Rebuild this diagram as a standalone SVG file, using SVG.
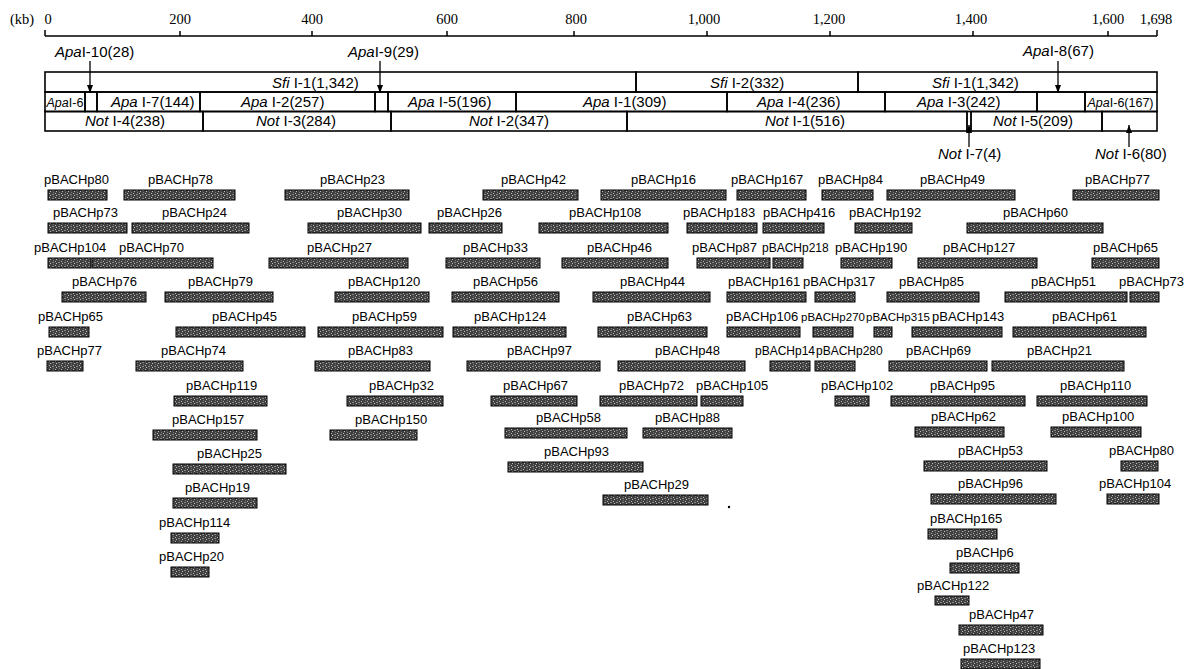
<svg xmlns="http://www.w3.org/2000/svg" width="1187" height="669" viewBox="0 0 1187 669">
<style>
.lbl{font-family:"Liberation Sans",Arial,sans-serif;font-size:13px;fill:#000}
.cnd{font-size:11.5px}
.cnd2{font-size:12px}
.bar{fill:url(#tex);stroke:#000;stroke-width:1}
.seg{fill:none;stroke:#000;stroke-width:1.6}
.mt{font-family:"Liberation Sans",Arial,sans-serif;font-size:15px;fill:#000}
.sm{font-size:12.5px}
.it{font-style:italic}
.ax{font-family:"Liberation Serif","Times New Roman",serif;font-size:14.5px;fill:#000}
.axl{stroke:#000;stroke-width:1.5;fill:none}
.arr{stroke:#000;stroke-width:1.3;fill:none;marker-end:url(#ah)}
</style>
<defs>
<pattern id="tex" width="6" height="4" patternUnits="userSpaceOnUse">
<rect width="6" height="4" fill="#404040"/>
<rect x="1" y="1" width="1" height="1" fill="#b5b5b5"/>
<rect x="4" y="2" width="2" height="1" fill="#8a8a8a"/>
<rect x="2" y="3" width="1" height="1" fill="#c0c0c0"/>
<rect x="5" y="0" width="1" height="1" fill="#777"/>
</pattern>
<marker id="ah" viewBox="0 0 8 6" refX="8" refY="3" markerWidth="8" markerHeight="6" orient="auto" markerUnits="userSpaceOnUse">
<path d="M0,0 L8,3 L0,6 z" fill="#000"/>
</marker>
</defs>
<rect width="1187" height="669" fill="#fff"/>

<g id="axis">
<text class="ax" x="10" y="24">(kb)</text>
<path class="axl" d="M45,36 H1157 M45,30 V36 M180,31 V36 M312,31 V36 M447,31 V36 M574,31 V36 M707,31 V36 M830,31 V36 M973,31 V36 M1108,31 V36 M1157,30 V36"/>
<g class="ax" text-anchor="middle">
<text x="48" y="24">0</text>
<text x="180" y="24">200</text>
<text x="312" y="24">400</text>
<text x="447" y="24">600</text>
<text x="576" y="24">800</text>
<text x="704" y="24">1,000</text>
<text x="829" y="24">1,200</text>
<text x="971" y="24">1,400</text>
<text x="1108" y="24">1,600</text>
<text x="1156" y="24">1,698</text>
</g>
</g>

<g id="sfi-row">
<g id="SfiI-1a"><rect class="seg" x="45" y="72" width="591" height="20"/><text class="mt" x="272" y="87.5"><tspan class="it">Sfi</tspan> I-1(1,342)</text></g>
<g id="SfiI-2"><rect class="seg" x="636" y="72" width="222" height="20"/><text class="mt" x="710" y="87.5"><tspan class="it">Sfi</tspan> I-2(332)</text></g>
<g id="SfiI-1b"><rect class="seg" x="858" y="72" width="299" height="20"/><text class="mt" x="932" y="87.5"><tspan class="it">Sfi</tspan> I-1(1,342)</text></g>
</g>

<g id="apa-row">
<g id="ApaI-6a"><rect class="seg" x="45" y="92" width="40" height="19.5"/><text class="mt sm" x="46.5" y="106.5"><tspan class="it">Apa</tspan>I-6</text></g>
<g id="ApaI-10"><rect class="seg" x="85" y="92" width="12" height="19.5"/></g>
<g id="ApaI-7"><rect class="seg" x="97" y="92" width="103" height="19.5"/><text class="mt" x="111" y="106.5"><tspan class="it">Apa</tspan> I-7(144)</text></g>
<g id="ApaI-2"><rect class="seg" x="200" y="92" width="175" height="19.5"/><text class="mt" x="241" y="106.5"><tspan class="it">Apa</tspan> I-2(257)</text></g>
<g id="ApaI-9"><rect class="seg" x="375" y="92" width="13" height="19.5"/></g>
<g id="ApaI-5"><rect class="seg" x="388" y="92" width="128" height="19.5"/><text class="mt" x="408" y="106.5"><tspan class="it">Apa</tspan> I-5(196)</text></g>
<g id="ApaI-1"><rect class="seg" x="516" y="92" width="211" height="19.5"/><text class="mt" x="583" y="106.5"><tspan class="it">Apa</tspan> I-1(309)</text></g>
<g id="ApaI-4"><rect class="seg" x="727" y="92" width="158" height="19.5"/><text class="mt" x="757" y="106.5"><tspan class="it">Apa</tspan> I-4(236)</text></g>
<g id="ApaI-3"><rect class="seg" x="885" y="92" width="152" height="19.5"/><text class="mt" x="917" y="106.5"><tspan class="it">Apa</tspan> I-3(242)</text></g>
<g id="ApaI-8"><rect class="seg" x="1037" y="92" width="48" height="19.5"/></g>
<g id="ApaI-6b"><rect class="seg" x="1085" y="92" width="72" height="19.5"/><text class="mt sm" x="1087.5" y="106.5"><tspan class="it">Apa</tspan>I-6(167)</text></g>
</g>

<g id="not-row">
<g id="NotI-4"><rect class="seg" x="45" y="111.5" width="158" height="19.5"/><text class="mt" x="85" y="126"><tspan class="it">Not</tspan> I-4(238)</text></g>
<g id="NotI-3"><rect class="seg" x="203" y="111.5" width="188" height="19.5"/><text class="mt" x="256" y="126"><tspan class="it">Not</tspan> I-3(284)</text></g>
<g id="NotI-2"><rect class="seg" x="391" y="111.5" width="236" height="19.5"/><text class="mt" x="469" y="126"><tspan class="it">Not</tspan> I-2(347)</text></g>
<g id="NotI-1"><rect class="seg" x="627" y="111.5" width="340" height="19.5"/><text class="mt" x="765" y="126"><tspan class="it">Not</tspan> I-1(516)</text></g>
<g id="NotI-7"><rect class="seg" x="967" y="111.5" width="4" height="19.5" style="stroke-width:1.2"/></g>
<g id="NotI-5"><rect class="seg" x="971" y="111.5" width="131" height="19.5"/><text class="mt" x="993" y="126"><tspan class="it">Not</tspan> I-5(209)</text></g>
<g id="NotI-6"><rect class="seg" x="1102" y="111.5" width="55" height="19.5"/></g>
</g>

<g id="callouts">
<text class="mt" x="55" y="57"><tspan class="it">Apa</tspan>I-10(28)</text>
<text class="mt" x="348" y="57"><tspan class="it">Apa</tspan>I-9(29)</text>
<text class="mt" x="1023" y="56"><tspan class="it">Apa</tspan>I-8(67)</text>
<text class="mt" x="938" y="159"><tspan class="it">Not</tspan> I-7(4)</text>
<text class="mt" x="1095" y="159"><tspan class="it">Not</tspan> I-6(80)</text>
</g>

<g id="connectors">
<path class="arr" d="M90,61 V93"/>
<path class="arr" d="M380,61 V93"/>
<path class="arr" d="M1058,61 V93"/>
<path class="arr" d="M969,147 V125"/>
<path class="arr" d="M1129,147 V125"/>
</g>

<g id="clones">
<!-- row 1 -->
<g id="c-p80a"><text class="lbl" x="44" y="184">pBACHp80</text><rect class="bar" x="48" y="190" width="59" height="10"/></g>
<g id="c-p78"><text class="lbl" x="148" y="184">pBACHp78</text><rect class="bar" x="124" y="190" width="111" height="10"/></g>
<g id="c-p23"><text class="lbl" x="320" y="184">pBACHp23</text><rect class="bar" x="285" y="190" width="124" height="10"/></g>
<g id="c-p42"><text class="lbl" x="501" y="184">pBACHp42</text><rect class="bar" x="483" y="190" width="95" height="10"/></g>
<g id="c-p16"><text class="lbl" x="631" y="184">pBACHp16</text><rect class="bar" x="601" y="190" width="125" height="10"/></g>
<g id="c-p167"><text class="lbl" x="731" y="184">pBACHp167</text><rect class="bar" x="737" y="190" width="69" height="10"/></g>
<g id="c-p84"><text class="lbl" x="818" y="184">pBACHp84</text><rect class="bar" x="822" y="190" width="51" height="10"/></g>
<g id="c-p49"><text class="lbl" x="920" y="184">pBACHp49</text><rect class="bar" x="887" y="190" width="128" height="10"/></g>
<g id="c-p77b"><text class="lbl" x="1085" y="184">pBACHp77</text><rect class="bar" x="1073" y="190" width="86" height="10"/></g>
<!-- row 2 -->
<g id="c-p73a"><text class="lbl" x="53" y="217">pBACHp73</text><rect class="bar" x="48" y="223" width="79" height="10"/></g>
<g id="c-p24"><text class="lbl" x="162" y="217">pBACHp24</text><rect class="bar" x="132" y="223" width="117" height="10"/></g>
<g id="c-p30"><text class="lbl" x="337" y="217">pBACHp30</text><rect class="bar" x="308" y="223" width="113" height="10"/></g>
<g id="c-p26"><text class="lbl" x="437" y="217">pBACHp26</text><rect class="bar" x="429" y="223" width="73" height="10"/></g>
<g id="c-p108"><text class="lbl" x="569" y="217">pBACHp108</text><rect class="bar" x="539" y="223" width="129" height="10"/></g>
<g id="c-p183"><text class="lbl" x="683" y="217">pBACHp183</text><rect class="bar" x="687" y="223" width="70" height="10"/></g>
<g id="c-p416"><text class="lbl" x="763" y="217">pBACHp416</text><rect class="bar" x="763" y="223" width="61" height="10"/></g>
<g id="c-p192"><text class="lbl" x="849" y="217">pBACHp192</text><rect class="bar" x="855" y="223" width="57" height="10"/></g>
<g id="c-p60"><text class="lbl" x="1003" y="217">pBACHp60</text><rect class="bar" x="967" y="223" width="136" height="10"/></g>
<!-- row 3 -->
<g id="c-p104a"><text class="lbl" x="34" y="252">pBACHp104</text><rect class="bar" x="48" y="258" width="43" height="10"/></g>
<g id="c-p70"><text class="lbl" x="119" y="252">pBACHp70</text><rect class="bar" x="92" y="258" width="121" height="10"/></g>
<g id="c-p27"><text class="lbl" x="307" y="252">pBACHp27</text><rect class="bar" x="269" y="258" width="139" height="10"/></g>
<g id="c-p33"><text class="lbl" x="463" y="252">pBACHp33</text><rect class="bar" x="446" y="258" width="94" height="10"/></g>
<g id="c-p46"><text class="lbl" x="587" y="252">pBACHp46</text><rect class="bar" x="562" y="258" width="106" height="10"/></g>
<g id="c-p87"><text class="lbl" x="692" y="252">pBACHp87</text><rect class="bar" x="697" y="258" width="73" height="10"/></g>
<g id="c-p218"><text class="lbl cnd2" x="762" y="252">pBACHp218</text><rect class="bar" x="773" y="258" width="30" height="10"/></g>
<g id="c-p190"><text class="lbl" x="835" y="252">pBACHp190</text><rect class="bar" x="841" y="258" width="51" height="10"/></g>
<g id="c-p127"><text class="lbl" x="943" y="252">pBACHp127</text><rect class="bar" x="918" y="258" width="119" height="10"/></g>
<g id="c-p65b"><text class="lbl" x="1093" y="252">pBACHp65</text><rect class="bar" x="1092" y="258" width="67" height="10"/></g>
<!-- row 4 -->
<g id="c-p76"><text class="lbl" x="72" y="286">pBACHp76</text><rect class="bar" x="62" y="292" width="84" height="10"/></g>
<g id="c-p79"><text class="lbl" x="188" y="286">pBACHp79</text><rect class="bar" x="165" y="292" width="108" height="10"/></g>
<g id="c-p120"><text class="lbl" x="348" y="286">pBACHp120</text><rect class="bar" x="335" y="292" width="94" height="10"/></g>
<g id="c-p56"><text class="lbl" x="473" y="286">pBACHp56</text><rect class="bar" x="452" y="292" width="107" height="10"/></g>
<g id="c-p44"><text class="lbl" x="620" y="286">pBACHp44</text><rect class="bar" x="593" y="292" width="117" height="10"/></g>
<g id="c-p161"><text class="lbl" x="728" y="286">pBACHp161</text><rect class="bar" x="727" y="292" width="79" height="10"/></g>
<g id="c-p317"><text class="lbl" x="803" y="286">pBACHp317</text><rect class="bar" x="815" y="292" width="40" height="10"/></g>
<g id="c-p85"><text class="lbl" x="899" y="286">pBACHp85</text><rect class="bar" x="887" y="292" width="92" height="10"/></g>
<g id="c-p51"><text class="lbl" x="1031" y="286">pBACHp51</text><rect class="bar" x="1005" y="292" width="122" height="10"/></g>
<g id="c-p73b"><text class="lbl" x="1119" y="286">pBACHp73</text><rect class="bar" x="1130" y="292" width="29" height="10"/></g>
<!-- row 5 -->
<g id="c-p65a"><text class="lbl" x="38" y="321">pBACHp65</text><rect class="bar" x="49" y="327" width="40" height="10"/></g>
<g id="c-p45"><text class="lbl" x="212" y="321">pBACHp45</text><rect class="bar" x="176" y="327" width="129" height="10"/></g>
<g id="c-p59"><text class="lbl" x="352" y="321">pBACHp59</text><rect class="bar" x="318" y="327" width="125" height="10"/></g>
<g id="c-p124"><text class="lbl" x="474" y="321">pBACHp124</text><rect class="bar" x="453" y="327" width="113" height="10"/></g>
<g id="c-p63"><text class="lbl" x="627" y="321">pBACHp63</text><rect class="bar" x="598" y="327" width="109" height="10"/></g>
<g id="c-p106"><text class="lbl" x="726" y="321">pBACHp106</text><rect class="bar" x="727" y="327" width="73" height="10"/></g>
<g id="c-p270"><text class="lbl cnd" x="801" y="321">pBACHp270</text><rect class="bar" x="813" y="327" width="40" height="10"/></g>
<g id="c-p315"><text class="lbl cnd" x="866" y="321">pBACHp315</text><rect class="bar" x="874" y="327" width="18" height="10"/></g>
<g id="c-p143"><text class="lbl" x="932" y="321">pBACHp143</text><rect class="bar" x="912" y="327" width="90" height="10"/></g>
<g id="c-p61"><text class="lbl" x="1052" y="321">pBACHp61</text><rect class="bar" x="1013" y="327" width="133" height="10"/></g>
<!-- row 6 -->
<g id="c-p77a"><text class="lbl" x="37" y="355">pBACHp77</text><rect class="bar" x="47" y="361" width="36" height="10"/></g>
<g id="c-p74"><text class="lbl" x="161" y="355">pBACHp74</text><rect class="bar" x="136" y="361" width="107" height="10"/></g>
<g id="c-p83"><text class="lbl" x="348" y="355">pBACHp83</text><rect class="bar" x="315" y="361" width="115" height="10"/></g>
<g id="c-p97"><text class="lbl" x="507" y="355">pBACHp97</text><rect class="bar" x="467" y="361" width="133" height="10"/></g>
<g id="c-p48"><text class="lbl" x="655" y="355">pBACHp48</text><rect class="bar" x="618" y="361" width="127" height="10"/></g>
<g id="c-p14"><text class="lbl cnd2" x="755" y="355">pBACHp14</text><rect class="bar" x="770" y="361" width="40" height="10"/></g>
<g id="c-p280"><text class="lbl cnd2" x="816" y="355">pBACHp280</text><rect class="bar" x="815" y="361" width="40" height="10"/></g>
<g id="c-p69"><text class="lbl" x="906" y="355">pBACHp69</text><rect class="bar" x="889" y="361" width="98" height="10"/></g>
<g id="c-p21"><text class="lbl" x="1027" y="355">pBACHp21</text><rect class="bar" x="992" y="361" width="132" height="10"/></g>
<!-- row 7 -->
<g id="c-p119"><text class="lbl" x="186" y="390">pBACHp119</text><rect class="bar" x="174" y="396" width="93" height="10"/></g>
<g id="c-p32"><text class="lbl" x="369" y="390">pBACHp32</text><rect class="bar" x="347" y="396" width="96" height="10"/></g>
<g id="c-p67"><text class="lbl" x="503" y="390">pBACHp67</text><rect class="bar" x="491" y="396" width="86" height="10"/></g>
<g id="c-p72"><text class="lbl" x="619" y="390">pBACHp72</text><rect class="bar" x="600" y="396" width="97" height="10"/></g>
<g id="c-p105"><text class="lbl" x="696" y="390">pBACHp105</text><rect class="bar" x="701" y="396" width="42" height="10"/></g>
<g id="c-p102"><text class="lbl" x="821" y="390">pBACHp102</text><rect class="bar" x="835" y="396" width="34" height="10"/></g>
<g id="c-p95"><text class="lbl" x="930" y="390">pBACHp95</text><rect class="bar" x="891" y="396" width="134" height="10"/></g>
<g id="c-p110"><text class="lbl" x="1060" y="390">pBACHp110</text><rect class="bar" x="1037" y="396" width="110" height="10"/></g>
<!-- row 8 -->
<g id="c-p157"><text class="lbl" x="172" y="424">pBACHp157</text><rect class="bar" x="153" y="430" width="104" height="10"/></g>
<g id="c-p150"><text class="lbl" x="355" y="424">pBACHp150</text><rect class="bar" x="330" y="430" width="87" height="10"/></g>
<g id="c-p58"><text class="lbl" x="536" y="422">pBACHp58</text><rect class="bar" x="505" y="428" width="122" height="10"/></g>
<g id="c-p88"><text class="lbl" x="655" y="422">pBACHp88</text><rect class="bar" x="643" y="428" width="89" height="10"/></g>
<g id="c-p62"><text class="lbl" x="931" y="421">pBACHp62</text><rect class="bar" x="915" y="427" width="89" height="10"/></g>
<g id="c-p100"><text class="lbl" x="1062" y="421">pBACHp100</text><rect class="bar" x="1051" y="427" width="90" height="10"/></g>
<!-- row 9 -->
<g id="c-p25"><text class="lbl" x="197" y="458">pBACHp25</text><rect class="bar" x="173" y="464" width="113" height="10"/></g>
<g id="c-p93"><text class="lbl" x="544" y="456">pBACHp93</text><rect class="bar" x="508" y="462" width="135" height="10"/></g>
<g id="c-p53"><text class="lbl" x="958" y="455">pBACHp53</text><rect class="bar" x="924" y="461" width="123" height="10"/></g>
<g id="c-p80b"><text class="lbl" x="1109" y="455">pBACHp80</text><rect class="bar" x="1121" y="461" width="37" height="10"/></g>
<!-- row 10 -->
<g id="c-p19"><text class="lbl" x="185" y="492">pBACHp19</text><rect class="bar" x="173" y="498" width="84" height="10"/></g>
<g id="c-p29"><text class="lbl" x="624" y="489">pBACHp29</text><rect class="bar" x="603" y="495" width="105" height="10"/></g>
<g id="c-p96"><text class="lbl" x="958" y="488">pBACHp96</text><rect class="bar" x="931" y="494" width="125" height="10"/></g>
<g id="c-p104b"><text class="lbl" x="1099" y="488">pBACHp104</text><rect class="bar" x="1107" y="494" width="52" height="10"/></g>
<!-- row 11 -->
<g id="c-p114"><text class="lbl" x="159" y="527">pBACHp114</text><rect class="bar" x="171" y="533" width="48" height="10"/></g>
<g id="c-p165"><text class="lbl" x="930" y="523">pBACHp165</text><rect class="bar" x="928" y="529" width="69" height="10"/></g>
<!-- row 12 -->
<g id="c-p20"><text class="lbl" x="159" y="561">pBACHp20</text><rect class="bar" x="171" y="567" width="38" height="10"/></g>
<g id="c-p6"><text class="lbl" x="956" y="557">pBACHp6</text><rect class="bar" x="950" y="563" width="69" height="10"/></g>
<!-- rows 13-15 -->
<g id="c-p122"><text class="lbl" x="917" y="590">pBACHp122</text><rect class="bar" x="935" y="596" width="34" height="9"/></g>
<g id="c-p47"><text class="lbl" x="969" y="619">pBACHp47</text><rect class="bar" x="959" y="625" width="84" height="10"/></g>
<g id="c-p123"><text class="lbl" x="963" y="653">pBACHp123</text><rect class="bar" x="961" y="659" width="79" height="10"/></g>
</g>
<circle cx="729" cy="507" r="1.2" fill="#000"/>
</svg>
